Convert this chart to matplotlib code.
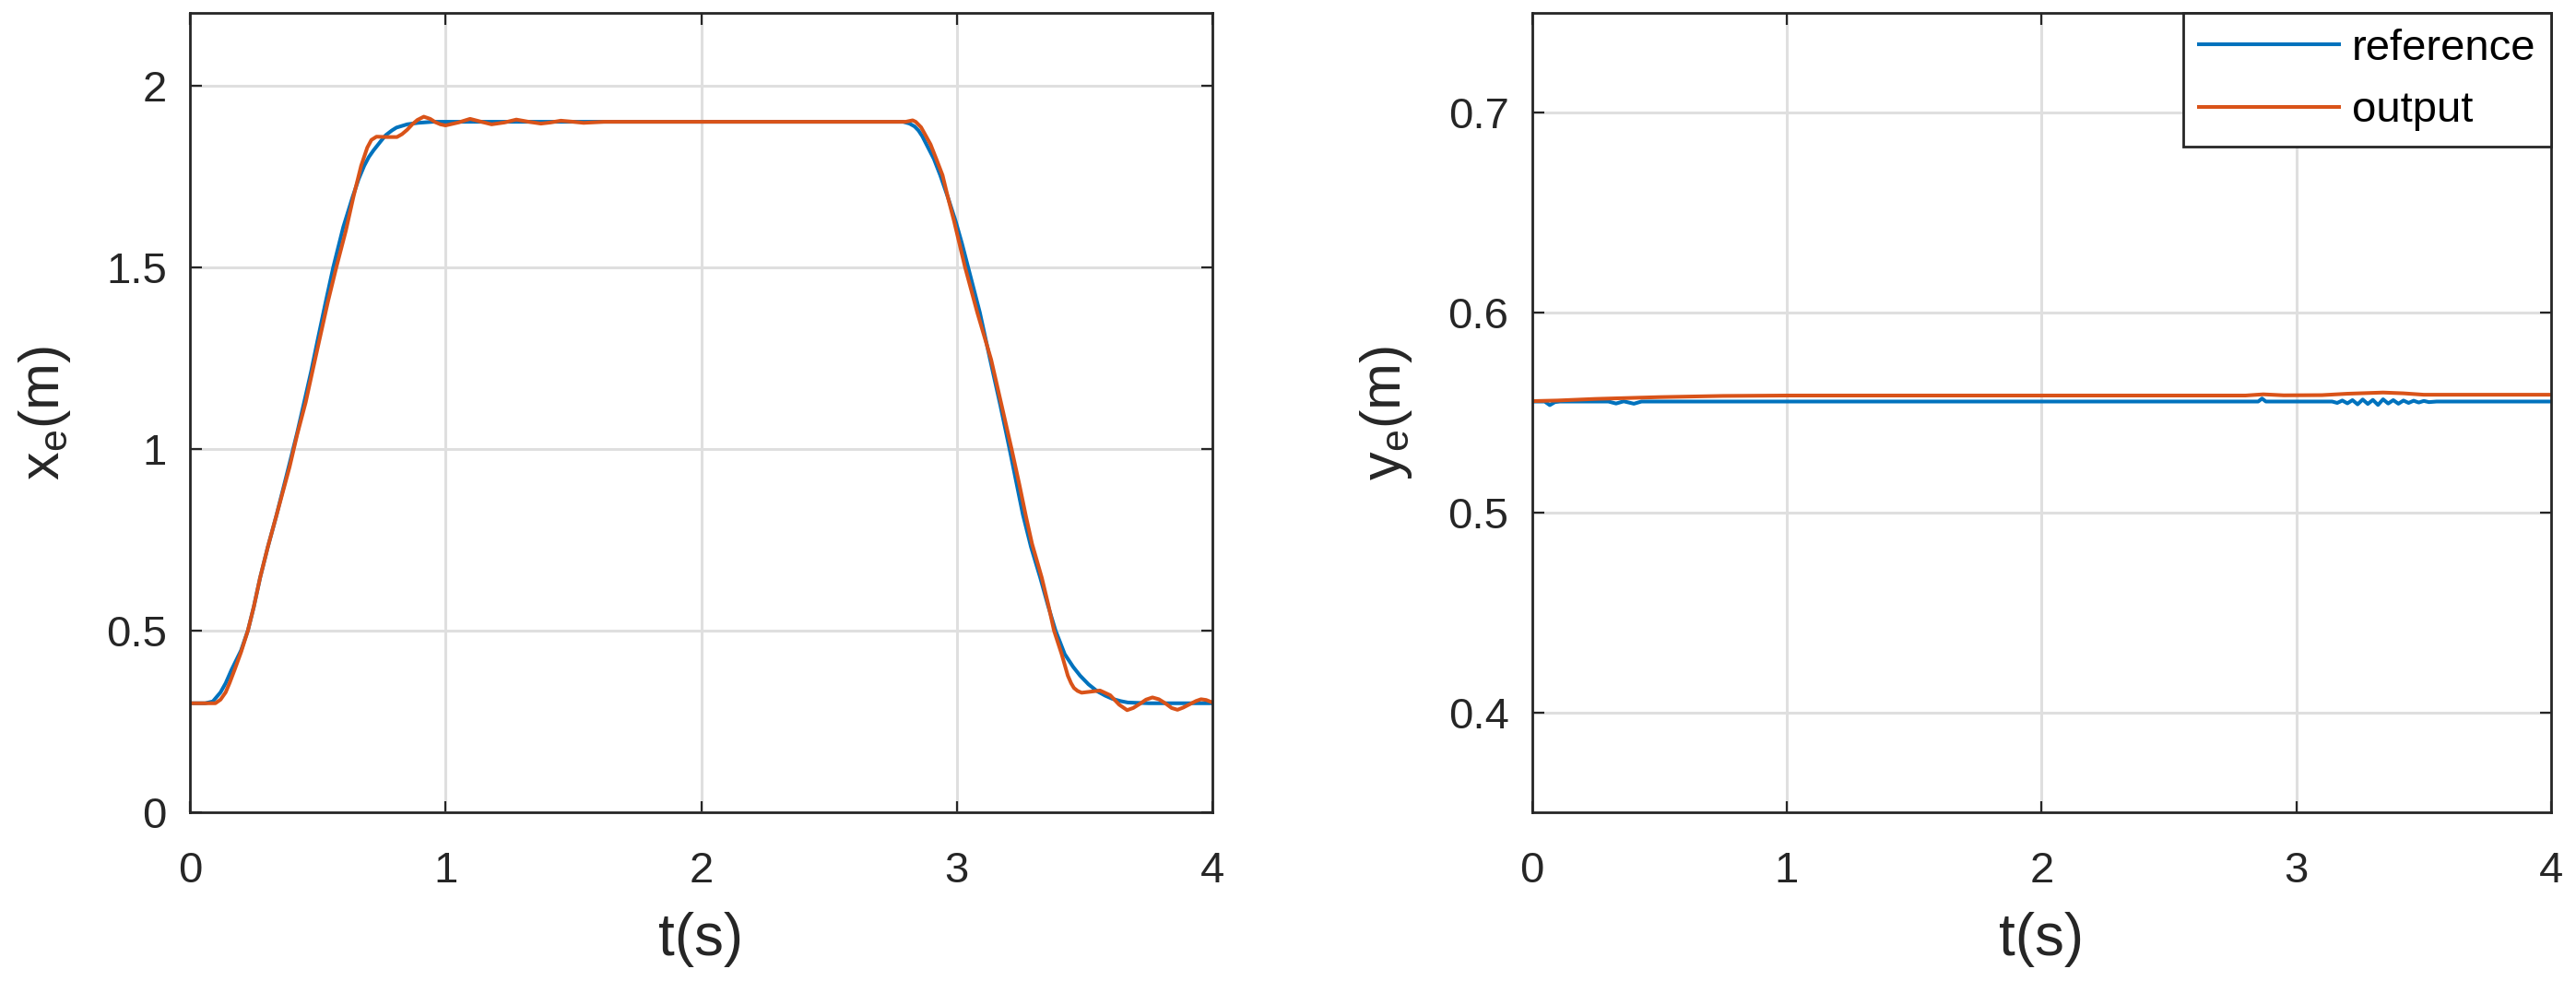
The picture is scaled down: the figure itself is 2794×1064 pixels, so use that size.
import matplotlib
matplotlib.use("Agg")
import matplotlib.pyplot as plt

plt.rcParams['font.family'] = ['Liberation Sans', 'DejaVu Sans']
plt.rcParams['mathtext.default'] = 'regular'

# ---- data ----
# left panel: x_e reference (blue)
t_xref = [0.0, 0.06, 0.09, 0.12, 0.14, 0.163, 0.20, 0.227, 0.25, 0.275, 0.305, 0.338,
          0.365, 0.39, 0.42, 0.447, 0.475, 0.50, 0.53, 0.561, 0.60, 0.637, 0.66, 0.682,
          0.70, 0.718, 0.745, 0.766, 0.79, 0.808, 0.85, 0.892, 0.95,
          2.79, 2.815, 2.835, 2.85, 2.865, 2.881, 2.91, 2.935, 2.965, 2.995, 3.02, 3.044,
          3.09, 3.13, 3.17, 3.206, 3.232, 3.258, 3.29, 3.326, 3.356, 3.386, 3.422, 3.455,
          3.482, 3.515, 3.549, 3.58, 3.609, 3.64, 3.669, 3.75, 4.0]
x_ref = [0.30, 0.30, 0.305, 0.33, 0.355, 0.392, 0.445, 0.50, 0.565, 0.646, 0.73, 0.815,
         0.89, 0.96, 1.045, 1.128, 1.215, 1.30, 1.40, 1.50, 1.61, 1.694, 1.742, 1.779,
         1.803, 1.821, 1.845, 1.863, 1.876, 1.884, 1.893, 1.897, 1.90,
         1.90, 1.895, 1.887, 1.876, 1.860, 1.838, 1.798, 1.753, 1.692, 1.627, 1.565, 1.50,
         1.375, 1.246, 1.12, 1.00, 0.91, 0.82, 0.73, 0.646, 0.57, 0.50, 0.435, 0.40,
         0.376, 0.352, 0.333, 0.321, 0.312, 0.306, 0.302, 0.30, 0.30]

# left panel: x_e output (orange)
t_xout = [0.0, 0.10, 0.12, 0.14, 0.155, 0.175, 0.20, 0.227, 0.25, 0.275, 0.305, 0.338,
          0.365, 0.39, 0.42, 0.453, 0.48, 0.51, 0.54, 0.573, 0.61, 0.64, 0.67, 0.694,
          0.71, 0.73, 0.77, 0.81, 0.83, 0.85, 0.87, 0.89, 0.915, 0.94, 0.96, 0.98,
          1.0, 1.05, 1.096, 1.14, 1.18, 1.23, 1.277, 1.325, 1.373, 1.41, 1.451, 1.50,
          1.54, 1.62, 2.80, 2.827, 2.839, 2.86, 2.875, 2.897, 2.92, 2.944, 2.965, 2.989,
          3.01, 3.032, 3.08, 3.134, 3.175, 3.214, 3.245, 3.270, 3.294, 3.332, 3.358, 3.38,
          3.41, 3.434, 3.447, 3.458, 3.472, 3.488, 3.525, 3.560, 3.60, 3.635, 3.666,
          3.69, 3.715, 3.74, 3.765, 3.79, 3.815, 3.84, 3.863, 3.885, 3.91, 3.935,
          3.955, 3.975, 4.0]
x_out = [0.30, 0.30, 0.31, 0.33, 0.355, 0.392, 0.44, 0.50, 0.565, 0.646, 0.73, 0.815,
         0.885, 0.95, 1.04, 1.128, 1.215, 1.31, 1.405, 1.50, 1.60, 1.694, 1.779, 1.829,
         1.850, 1.859, 1.858, 1.858, 1.866, 1.878, 1.893, 1.905, 1.914, 1.908, 1.899,
         1.893, 1.890, 1.898, 1.908, 1.900, 1.893, 1.898, 1.906, 1.900, 1.895, 1.898,
         1.903, 1.900, 1.897, 1.90, 1.90, 1.904, 1.90, 1.885, 1.866, 1.838, 1.797,
         1.753, 1.692, 1.627, 1.565, 1.50, 1.375, 1.246, 1.12, 1.00, 0.90, 0.815, 0.739,
         0.646, 0.57, 0.50, 0.435, 0.376, 0.355, 0.342, 0.334, 0.329, 0.332, 0.335,
         0.322, 0.296, 0.281, 0.287, 0.298, 0.310, 0.316, 0.311, 0.300, 0.287, 0.282,
         0.288, 0.297, 0.306, 0.311, 0.309, 0.302]

# right panel: y_e reference (blue)
t_yref = [0.0, 0.05, 0.07, 0.09, 0.11, 0.30, 0.33, 0.36, 0.40, 0.43, 0.50, 2.85, 2.865,
          2.88, 3.14, 3.16, 3.18, 3.20, 3.22, 3.24, 3.26, 3.28, 3.30, 3.32, 3.34, 3.36,
          3.38, 3.40, 3.42, 3.44, 3.46, 3.48, 3.50, 3.52, 3.55, 3.60, 4.0]
y_ref = [0.5555, 0.5555, 0.5537, 0.5552, 0.5555, 0.5555, 0.5545, 0.5556, 0.5544, 0.5555,
         0.5555, 0.5555, 0.5570, 0.5555, 0.5555, 0.5548, 0.5560, 0.5546, 0.5562, 0.5541,
         0.5565, 0.5543, 0.5563, 0.5538, 0.5566, 0.5545, 0.5562, 0.5544, 0.5560, 0.5548,
         0.5559, 0.5550, 0.5558, 0.5552, 0.5555, 0.5555, 0.5555]

# right panel: y_e output (orange)
t_yout = [0.0, 0.10, 0.25, 0.50, 0.75, 1.0, 2.80, 2.87, 2.95, 3.10, 3.20, 3.34, 3.42,
          3.50, 4.0]
y_out = [0.5557, 0.5560, 0.5568, 0.5577, 0.5583, 0.5585, 0.5585, 0.5591, 0.5586,
         0.5587, 0.5594, 0.5600, 0.5596, 0.5589, 0.5589]

xticks = [0, 1, 2, 3, 4]
left_yticks = [0, 0.5, 1, 1.5, 2]
left_yticklabels = ['0', '0.5', '1', '1.5', '2']
right_yticks = [0.4, 0.5, 0.6, 0.7]
right_yticklabels = ['0.4', '0.5', '0.6', '0.7']

blue = '#0072BD'
orange = '#D95319'
dark = '#262626'

fig = plt.figure(figsize=(27.94, 10.64), dpi=100)
ax1 = fig.add_axes([0.0737, 0.172, 0.397, 0.815])
ax2 = fig.add_axes([0.5947, 0.172, 0.3957, 0.815])


def style(ax):
    ax.grid(True, color='#dfdfdf', linewidth=2.2)
    ax.set_axisbelow(True)
    for s in ax.spines.values():
        s.set_color(dark)
        s.set_linewidth(2.0)
    ax.tick_params(direction='in', top=True, right=True, length=9, width=1.6,
                   colors=dark, labelsize=34)
    ax.tick_params(axis='x', pad=30)
    ax.tick_params(axis='y', pad=18)
    ax.set_xlim(0, 4)
    ax.set_xticks(xticks)
    ax.set_xticklabels([str(v) for v in xticks])
    ax.set_xlabel('t(s)', fontsize=46, color=dark, labelpad=16)


ax1.plot(t_xref, x_ref, color=blue, lw=2.9)
ax1.plot(t_xout, x_out, color=orange, lw=2.9)
style(ax1)
ax1.set_ylim(0, 2.2)
ax1.set_yticks(left_yticks)
ax1.set_yticklabels(left_yticklabels)
ax1.set_ylabel('x$_{e}$(m)', fontsize=44, color=dark, labelpad=26)

ax2.plot(t_yref, y_ref, color=blue, lw=2.9, label='reference')
ax2.plot(t_yout, y_out, color=orange, lw=2.9, label='output')
style(ax2)
ax2.set_ylim(0.35, 0.75)
ax2.set_yticks(right_yticks)
ax2.set_yticklabels(right_yticklabels)
ax2.set_ylabel('y$_{e}$(m)', fontsize=44, color=dark, labelpad=26)

leg = ax2.legend(loc='upper right', fontsize=34, frameon=True, fancybox=False,
                 framealpha=1, edgecolor=dark, borderaxespad=0, handlelength=3.2,
                 handletextpad=0.3, labelspacing=0.5, borderpad=0.36)
leg.get_frame().set_linewidth(2.0)

fig.savefig('out.png', dpi=100)
